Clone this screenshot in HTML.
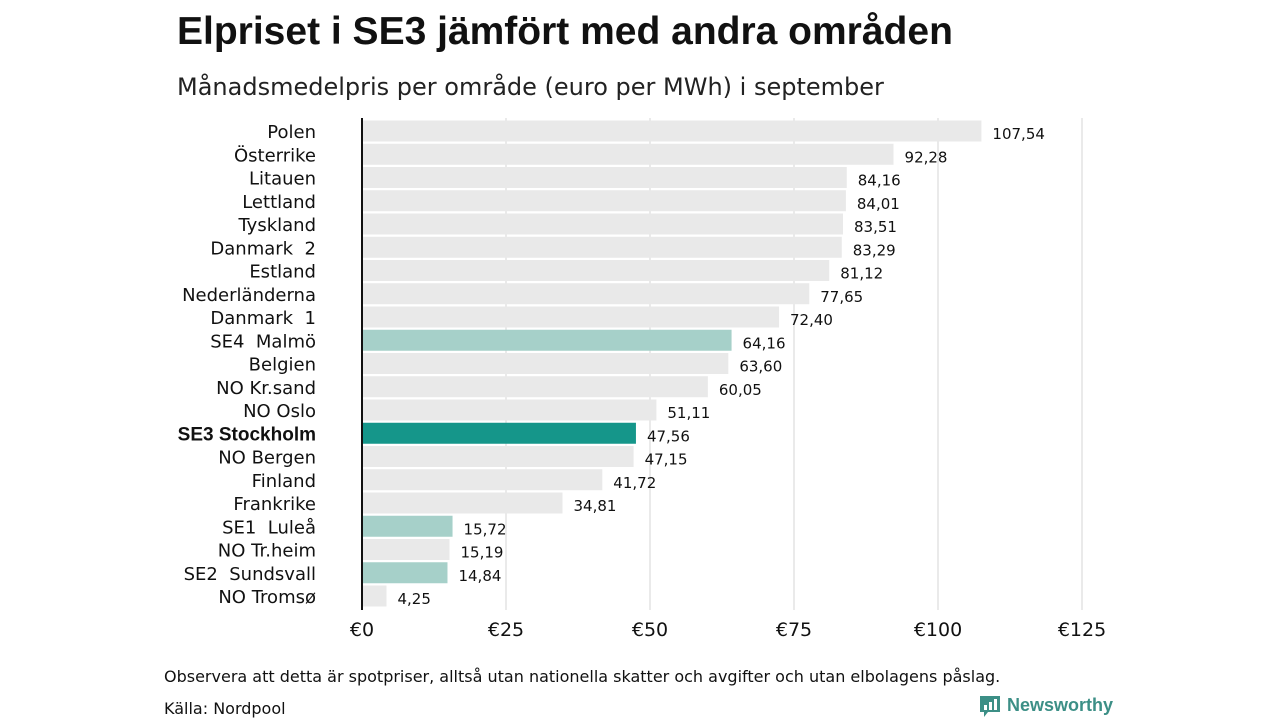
<!DOCTYPE html>
<html><head><meta charset="utf-8"><style>
body{margin:0;background:#fff;width:1280px;height:720px;overflow:hidden;font-family:"Liberation Sans","DejaVu Sans",sans-serif;}
.dv{font-family:"DejaVu Sans","Liberation Sans",sans-serif;}
</style></head><body>
<svg id="chart" width="1280" height="720" xmlns="http://www.w3.org/2000/svg">
<text x="177" y="44" font-size="39" font-weight="bold" fill="#111">Elpriset i SE3 jämfört med andra områden</text>
<text class="dv" x="177" y="95" font-size="24" fill="#222">Månadsmedelpris per område (euro per MWh) i september</text>
<g id="grid"></g><g id="bars"></g><g id="labels"></g>
<text class="dv" x="164" y="682" font-size="16" fill="#111">Observera att detta är spotpriser, alltså utan nationella skatter och avgifter och utan elbolagens påslag.</text>
<text class="dv" x="164" y="714" font-size="16" fill="#111">Källa: Nordpool</text>
<g>
<path d="M980 696h20v16h-12l-4 5v-5h-4z" fill="#3c8f86"/>
<rect x="984" y="705" width="3" height="5" fill="#fff"/><rect x="989" y="702" width="3" height="8" fill="#fff"/><rect x="994" y="699" width="3" height="11" fill="#fff"/>
<text x="1007" y="711" font-size="18" font-weight="bold" fill="#3c8f86">Newsworthy</text>
</g>
</svg>
<script>
const categories=["Polen","Österrike","Litauen","Lettland","Tyskland","Danmark  2","Estland","Nederländerna","Danmark  1","SE4  Malmö","Belgien","NO Kr.sand","NO Oslo","SE3 Stockholm","NO Bergen","Finland","Frankrike","SE1  Luleå","NO Tr.heim","SE2  Sundsvall","NO Tromsø"];
const values=[107.54,92.28,84.16,84.01,83.51,83.29,81.12,77.65,72.40,64.16,63.60,60.05,51.11,47.56,47.15,41.72,34.81,15.72,15.19,14.84,4.25];
const highlight=["none","none","none","none","none","none","none","none","none","light","none","none","none","dark","none","none","none","light","none","light","none"];
const ticks=[0,25,50,75,100,125];
const NS="http://www.w3.org/2000/svg";
const x=v=>362+v*5.76;
const y=i=>131+i*23.25;
function mk(t,a,p){const e=document.createElementNS(NS,t);for(const k in a)e.setAttribute(k,a[k]);p.appendChild(e);return e;}
const grid=document.getElementById('grid'),bars=document.getElementById('bars'),labels=document.getElementById('labels');
ticks.forEach(t=>{
 if(t>0){const l=mk('line',{x1:x(t),x2:x(t),y1:118,y2:610,stroke:'#d4d4d4','stroke-width':1},grid);
 
 }
 const tx=mk('text',{x:x(t),y:636,'font-size':19,'text-anchor':'middle',fill:'#111','class':'dv'},grid);
 tx.textContent='€'+t;
 
 
});
const colors={none:'#e9e9e9',light:'#a6d0c9',dark:'#15968a'};
categories.forEach((c,i)=>{
 const r=mk('rect',{x:x(0),y:y(i)-10.5,width:x(values[i])-x(0),height:21,fill:colors[highlight[i]]},bars);
 
 
 const bold=highlight[i]==='dark';
 const lb=mk('text',{x:316,y:y(i)+7,'font-size':bold?19:18,'text-anchor':'end',fill:'#111','font-weight':bold?'bold':'normal','class':bold?'':'dv'},labels);
 lb.textContent=c;lb.style.whiteSpace='pre';
 
 
 const v=mk('text',{x:x(values[i])+11,y:y(i)+8,'font-size':15,fill:'#111','class':'dv'},labels);
 v.textContent=values[i].toFixed(2).replace('.',',');
 
 
});
const ax=mk('line',{x1:362,x2:362,y1:118,y2:610,stroke:'#111','stroke-width':2},labels);


</script>
</body></html>
